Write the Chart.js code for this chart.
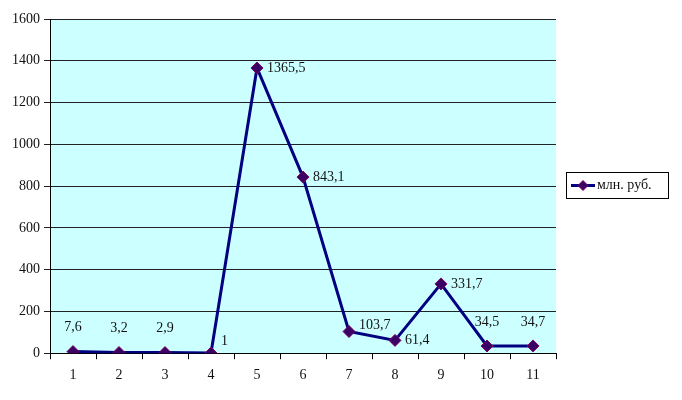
<!DOCTYPE html>
<html lang="ru">
<head>
  <meta charset="UTF-8">
  <title>млн. руб.</title>
  <script src="https://cdn.jsdelivr.net/npm/chart.js"></script>
  <style>
    body { margin: 0; background: #fff; }
    #wrap { width: 682px; height: 400px; }
  </style>
</head>
<body>
  <div id="wrap"><canvas id="c" width="682" height="400"></canvas></div>
  <script>
    const categories = ['1', '2', '3', '4', '5', '6', '7', '8', '9', '10', '11'];
    const values = [7.6, 3.2, 2.9, 1, 1365.5, 843.1, 103.7, 61.4, 331.7, 34.5, 34.7];
    const valueLabels = ['7,6', '3,2', '2,9', '1', '1365,5', '843,1', '103,7', '61,4', '331,7', '34,5', '34,7'];
    const labelSide = ['top', 'top', 'top', 'right', 'right', 'right', 'right', 'right', 'right', 'top', 'top'];
    const seriesName = 'млн. руб.';

    const FONT = '"Liberation Serif", "DejaVu Serif", serif';

    // cyan plot background
    const plotBg = {
      id: 'plotBg',
      beforeDraw(chart) {
        const { ctx, chartArea: a } = chart;
        ctx.save();
        ctx.fillStyle = '#ccffff';
        ctx.fillRect(a.left, a.top, a.right - a.left, a.bottom - a.top);
        ctx.restore();
      }
    };

    // value labels and boxed legend, excel style
    const extras = {
      id: 'extras',
      afterDatasetsDraw(chart) {
        const ctx = chart.ctx;
        const meta = chart.getDatasetMeta(0);
        ctx.save();
        ctx.font = '14px ' + FONT;
        ctx.fillStyle = '#111';
        meta.data.forEach((pt, i) => {
          if (labelSide[i] === 'top') {
            ctx.textAlign = 'center';
            ctx.textBaseline = 'middle';
            ctx.fillText(valueLabels[i], pt.x, pt.y - 24);
          } else {
            ctx.textAlign = 'left';
            ctx.textBaseline = 'middle';
            const dy = i === 3 ? -12 : (i === 6 ? -6 : 0);
            ctx.fillText(valueLabels[i], pt.x + 10, pt.y + dy);
          }
        });

        // legend
        const lx = 566, ly = 172, lw = 102, lh = 26;
        ctx.fillStyle = '#fff';
        ctx.fillRect(lx, ly, lw, lh);
        ctx.strokeStyle = '#000';
        ctx.lineWidth = 1;
        ctx.strokeRect(lx + 0.5, ly + 0.5, lw, lh);
        const my = ly + lh / 2 + 0.5;
        ctx.strokeStyle = '#000080';
        ctx.lineWidth = 3;
        ctx.beginPath();
        ctx.moveTo(lx + 5, my);
        ctx.lineTo(lx + 29, my);
        ctx.stroke();
        ctx.fillStyle = '#3a0063';
        ctx.strokeStyle = '#800060';
        ctx.lineWidth = 1;
        ctx.beginPath();
        ctx.moveTo(lx + 17, my - 5);
        ctx.lineTo(lx + 22, my);
        ctx.lineTo(lx + 17, my + 5);
        ctx.lineTo(lx + 12, my);
        ctx.closePath();
        ctx.fill();
        ctx.stroke();
        ctx.fillStyle = '#111';
        ctx.textAlign = 'left';
        ctx.font = '14px ' + FONT;
        ctx.fillText(seriesName, lx + 31, my);
        ctx.restore();
      }
    };

    new Chart(document.getElementById('c'), {
      type: 'line',
      data: {
        labels: categories,
        datasets: [{
          label: seriesName,
          data: values,
          borderColor: '#000080',
          borderWidth: 3,
          pointStyle: 'rectRot',
          pointRadius: 6,
          pointBackgroundColor: '#3a0063',
          pointBorderColor: '#800060',
          pointBorderWidth: 1,
          tension: 0
        }]
      },
      options: {
        responsive: false,
        animation: false,
        layout: { padding: { top: 19, right: 126, left: 8, bottom: 8 } },
        plugins: {
          legend: { display: false },
          tooltip: { enabled: false }
        },
        scales: {
          x: {
            offset: true,
            grid: {
              offset: true,
              drawOnChartArea: false,
              drawTicks: true,
              tickLength: 6,
              color: '#000'
            },
            border: { color: '#000', width: 1 },
            ticks: {
              font: { family: FONT, size: 14 },
              color: '#111',
              padding: 8,
              maxRotation: 0
            }
          },
          y: {
            min: 0,
            max: 1600,
            grid: {
              color: '#222',
              tickLength: 6
            },
            border: { color: '#000', width: 1 },
            ticks: {
              stepSize: 200,
              font: { family: FONT, size: 14 },
              color: '#111',
              padding: 4,
              callback: v => String(v)
            }
          }
        }
      },
      plugins: [plotBg, extras]
    });
  </script>
</body>
</html>
